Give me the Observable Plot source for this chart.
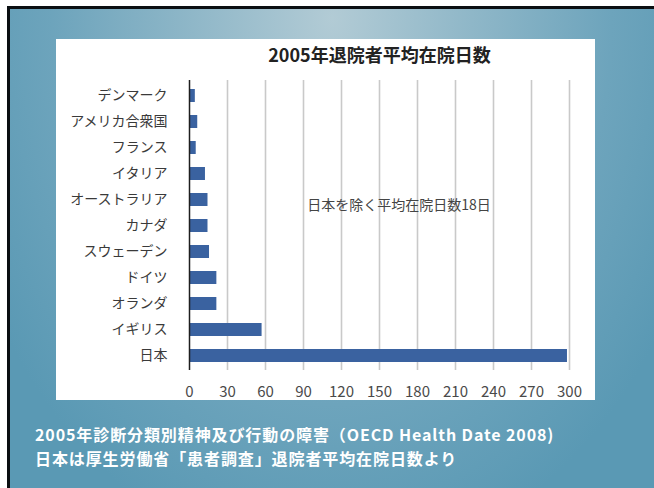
<!DOCTYPE html>
<html>
<head>
<meta charset="utf-8">
<script src="https://cdn.jsdelivr.net/npm/d3@7"></script>
<script src="https://cdn.jsdelivr.net/npm/@observablehq/plot@0.6"></script>
<style>
  html, body { margin: 0; padding: 0; background: #fff; }
  body { width: 654px; height: 488px; position: relative; overflow: hidden; font-family: "Noto Sans CJK JP", sans-serif; }
  #bg {
    position: absolute; left: 7px; top: 6px; width: 644px; height: 479px;
    border-top: 3px solid #0b0f12; border-left: 3px solid #0b0f12;
    background: radial-gradient(ellipse 62% 115% at 50% 2%, #b2cbd5 0%, #8fb7c8 35%, #6da4bc 70%, #5a99b4 100%);
  }
  #panel { position: absolute; left: 56px; top: 39px; width: 539px; height: 361px; background: #fff; }
  #title { position: absolute; left: 56px; width: 539px; top: 42px; text-align: center; padding-left: 108px; box-sizing: border-box;
    font-size: 18px; font-weight: 700; color: #222; line-height: 24px; letter-spacing: 0px; }
  #chart { position: absolute; left: 0; top: 0; }
  #caption { position: absolute; left: 35px; top: 422px; color: #fff; font-weight: 700; font-size: 16px; line-height: 24px; letter-spacing: 0.9px; white-space: nowrap; }
</style>
</head>
<body>
<div id="bg"></div>
<div id="panel"><div id="chart"></div></div>
<div id="title"></div>
<div id="caption"></div>
<script>
const titleText = "2005年退院者平均在院日数";
const captionLines = ["2005年診断分類別精神及び行動の障害（OECD Health Date 2008)", "日本は厚生労働省「患者調査」退院者平均在院日数より"];
const countries = ["デンマーク", "アメリカ合衆国", "フランス", "イタリア", "オーストラリア", "カナダ", "スウェーデン", "ドイツ", "オランダ", "イギリス", "日本"];
const days = [4.6, 6.5, 5.3, 12.6, 14.6, 14.6, 15.8, 21.6, 21.6, 57.3, 298.4];
const xTicks = [0, 30, 60, 90, 120, 150, 180, 210, 240, 270, 300];
const annotations = [{label: "日本を除く平均在院日数18日", x: 93, y: "オーストラリア"}];

document.getElementById("title").textContent = titleText;
document.getElementById("caption").innerHTML = captionLines.map(s => `<div>${s}</div>`).join("");

const data = countries.map((c, i) => ({country: c, days: days[i]}));

const chart = Plot.plot({
  width: 539,
  height: 361,
  marginLeft: 133,
  marginRight: 26,
  marginTop: 41,
  marginBottom: 30,
  style: {background: "transparent", fontFamily: "'Noto Sans CJK JP', sans-serif", fontSize: "14px", color: "#3a3a3a", overflow: "visible"},
  x: {domain: [0, 300]},
  y: {domain: countries, paddingInner: 0.5, paddingOuter: 0.31},
  marks: [
    Plot.ruleX(xTicks.filter(t => t > 0), {stroke: "#c9c9c9", strokeWidth: 1.6}),
    Plot.barX(data, {x: "days", y: "country", fill: "#3a62a0"}),
    Plot.ruleX([0], {stroke: "#1e1e1e", strokeWidth: 1.5}),
    Plot.axisX({ticks: xTicks, tickSize: 0, tickPadding: 16, fontSize: 15, label: null, fill: "#4a4a4a"}),
    Plot.axisY({tickSize: 0, tickPadding: 22, fontSize: 14, label: null, fill: "#3a3a3a"}),
    Plot.text(annotations, {x: "x", y: "y", text: "label", textAnchor: "start", dy: 6, fontSize: 14, fill: "#444"})
  ]
});
document.getElementById("chart").appendChild(chart);
</script>
</body>
</html>
